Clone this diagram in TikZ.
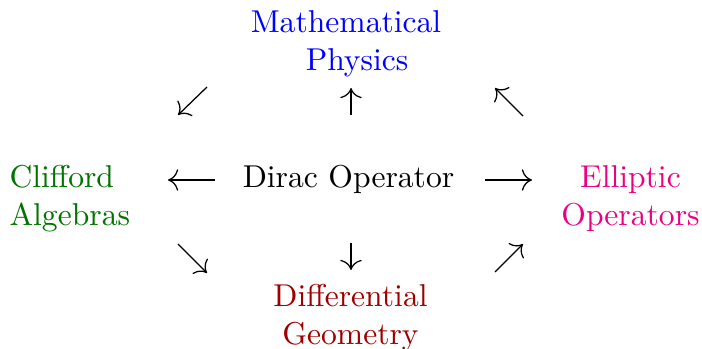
\documentclass[tikz,border=0pt]{standalone}
\usetikzlibrary{arrows.meta}
\definecolor{mpblue}{rgb}{0,0,1}
\definecolor{cagreen}{rgb}{0,0.45,0}
\definecolor{dgred}{rgb}{0.62,0,0}
\definecolor{eopink}{rgb}{0.92,0,0.52}
\begin{document}
\begin{tikzpicture}[x=0.3165pt,y=-0.3165pt,
  lbl/.style={inner sep=0pt,outer sep=0pt,anchor=base},
  conn/.style={line width=0.4pt,-{Computer Modern Rightarrow[scale=1.3]}}]
\useasboundingbox (0,0) rectangle (702,348);
% labels (base anchor = baseline of the last line)
\node[lbl,text=mpblue,align=center] (mp) at (346,70) {Mathematical\\\hspace*{7pt}Physics};
\node[lbl,text=cagreen,align=left,anchor=base west] (ca) at (9.5,225) {Clifford\\Algebras};
\node[lbl] (do) at (348.5,187) {Dirac Operator};
\node[lbl,text=eopink,align=center] (eo) at (630.5,225) {Elliptic\\Operators};
\node[lbl,text=dgred,align=center] (dg) at (350.5,344) {Differential\\Geometry};
% arrow ends
\coordinate (lT) at (215,180); \coordinate (lH) at (168,180);
\coordinate (rT) at (485,180); \coordinate (rH) at (532,180);
\coordinate (uT) at (351,115); \coordinate (uH) at (351,88);
\coordinate (dT) at (351,243); \coordinate (dH) at (351,270);
\coordinate (swT) at (207,87); \coordinate (swH) at (178,115);
\coordinate (nwT) at (523,116); \coordinate (nwH) at (495,88);
\coordinate (seT) at (178,244); \coordinate (seH) at (207,273);
\coordinate (neT) at (495,272); \coordinate (neH) at (523,244);
% connectors
\draw[conn] (lT) -- (lH);
\draw[conn] (rT) -- (rH);
\draw[conn] (uT) -- (uH);
\draw[conn] (dT) -- (dH);
\draw[conn] (swT) -- (swH);
\draw[conn] (nwT) -- (nwH);
\draw[conn] (seT) -- (seH);
\draw[conn] (neT) -- (neH);
\end{tikzpicture}
\end{document}
